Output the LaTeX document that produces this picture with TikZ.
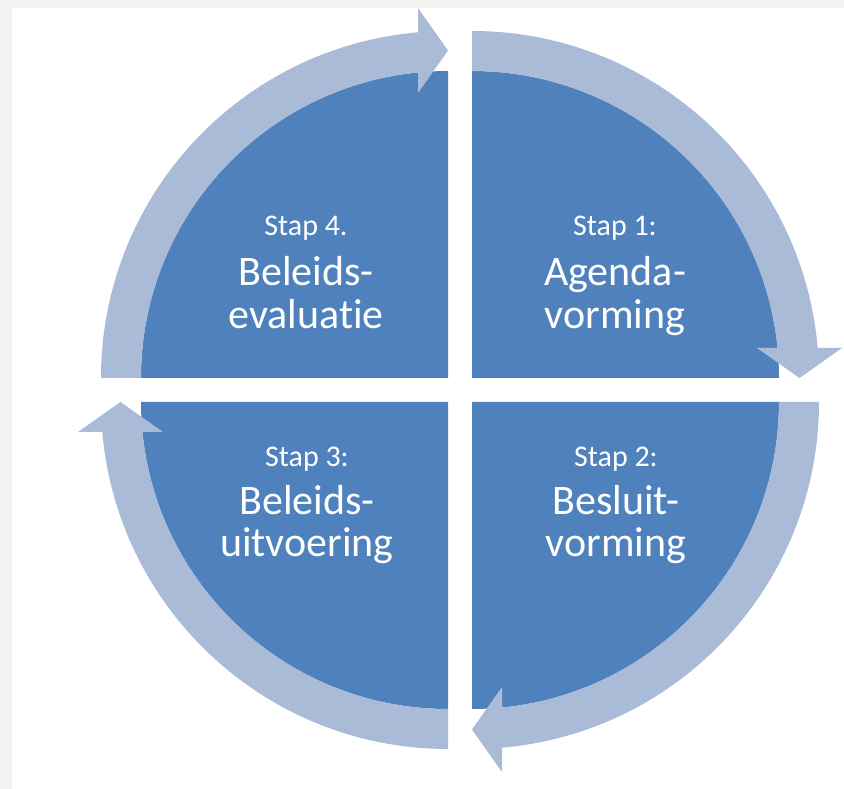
\documentclass[tikz,border=0pt]{standalone}
\usepackage{fontspec}
\setmainfont[Ligatures={NoCommon}]{Carlito}
\definecolor{bggray}{RGB}{242,242,240}
\definecolor{darkq}{RGB}{79,129,189}
\definecolor{lightq}{RGB}{170,187,216}
\tikzset{
  quad/.style={fill=darkq, draw=none},
  band/.style={fill=lightq, draw=none},
  small/.style={text=white, inner sep=0pt, anchor=base, font=\fontsize{30}{32}\selectfont},
  big/.style={text=white, inner sep=0pt, anchor=base, font=\fontsize{42}{44}\selectfont},
}
\newcommand{\cyclearrow}{%
  \fill[band] (0,307) -- (0,347) arc[start angle=90, end angle=4.96, radius=347]
    -- (370,30) -- (327.5,0) -- (285,30) -- (305.5,30)
    arc[start angle=5.61, end angle=90, radius=307] -- cycle;}
\begin{document}
\begin{tikzpicture}[x=1pt,y=1pt]
  \fill[bggray] (0,0) rectangle (844,789);
  \fill[white] (12,0) rectangle (844,781);
  \useasboundingbox (0,0) rectangle (844,789);
  % quadrants
  \fill[quad] (472,411) -- ++(0,307) arc[start angle=90, end angle=0, radius=307] -- cycle;
  \fill[quad] (472,387) -- ++(307,0) arc[start angle=0, end angle=-90, radius=307] -- cycle;
  \fill[quad] (448,387) -- ++(0,-307) arc[start angle=-90, end angle=-180, radius=307] -- cycle;
  \fill[quad] (448,411) -- ++(-307,0) arc[start angle=180, end angle=90, radius=307] -- cycle;
  % arrows
  \begin{scope}[shift={(472,411)}]\cyclearrow\end{scope}
  \begin{scope}[shift={(472,387)}, rotate=-90]\cyclearrow\end{scope}
  \begin{scope}[shift={(448,387)}, rotate=180]\cyclearrow\end{scope}
  \begin{scope}[shift={(448,411)}, rotate=90]\cyclearrow\end{scope}
  % texts
  \node[small] (s1a) at (615,553) {Stap 1:};
  \node[big]   (s1b) at (615,503) {Agenda-};
  \node[big]   (s1c) at (615,460) {vorming};
  \node[small] (s4a) at (306,553) {Stap 4.};
  \node[big]   (s4b) at (306,503) {Beleids-};
  \node[big]   (s4c) at (306,460) {evaluatie};
  \node[small] (s3a) at (307,322) {Stap 3:};
  \node[big]   (s3b) at (307,274) {Beleids-};
  \node[big]   (s3c) at (307,232) {uitvoering};
  \node[small] (s2a) at (616,322) {Stap 2:};
  \node[big]   (s2b) at (616,274) {Besluit-};
  \node[big]   (s2c) at (616,232) {vorming};
\end{tikzpicture}
\end{document}
